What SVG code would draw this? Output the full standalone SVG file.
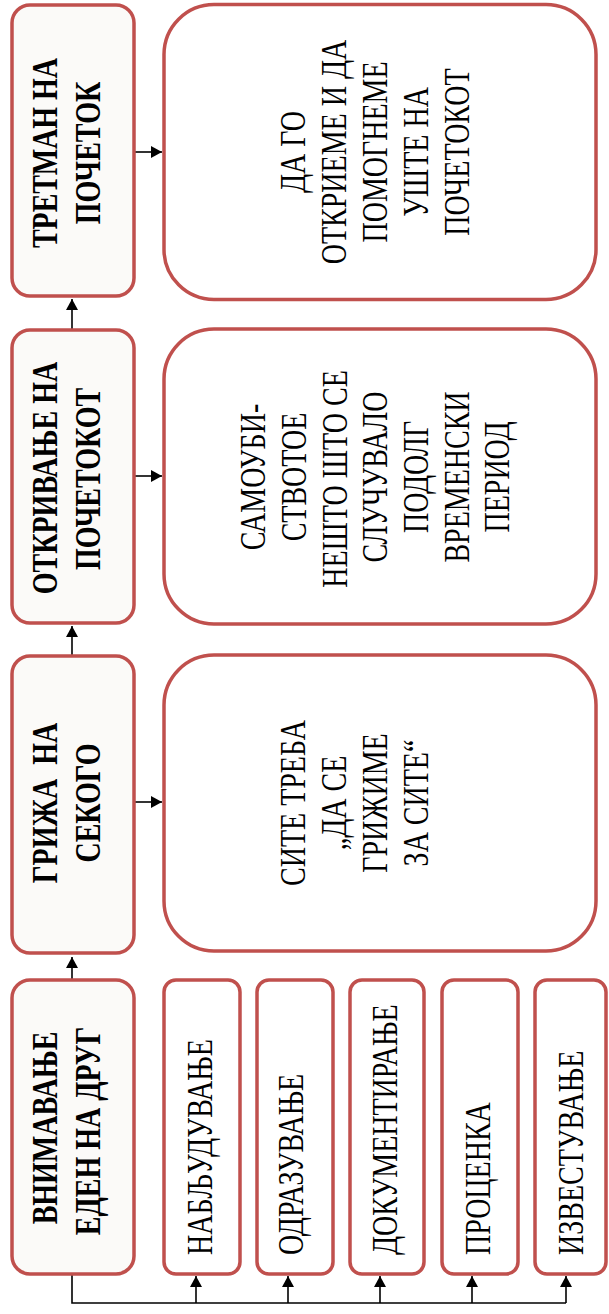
<svg xmlns="http://www.w3.org/2000/svg" width="609" height="1314" viewBox="0 0 609 1314">
<defs>
<style>
.lbox{fill:#fbfaf8;stroke:#c0504d;stroke-width:3.5}
.rbox{fill:#ffffff;stroke:#c0504d;stroke-width:3.5}
.b{font-family:"Liberation Serif","Times New Roman",serif;font-weight:bold;font-size:28px;fill:#000;text-anchor:middle;white-space:pre}
.r{font-family:"Liberation Serif","Times New Roman",serif;font-size:28px;fill:#000;text-anchor:middle}
.s{font-family:"Liberation Serif","Times New Roman",serif;font-size:28px;fill:#000;text-anchor:start}
.con{fill:none;stroke:#000;stroke-width:1.6}
</style>
<marker id="ah" markerUnits="userSpaceOnUse" markerWidth="12" markerHeight="12" refX="11" refY="6" orient="auto" viewBox="0 0 12 12">
<path d="M0,0 L11,6 L0,12 Z" fill="#000"/>
</marker>
</defs>
<rect width="609" height="1314" fill="#ffffff"/>

<g id="connectors">
<path class="con" d="M72,980 V957" marker-end="url(#ah)"/>
<path class="con" d="M72,656 V626" marker-end="url(#ah)"/>
<path class="con" d="M72,330 V299" marker-end="url(#ah)"/>
<path class="con" d="M134,152 H162" marker-end="url(#ah)"/>
<path class="con" d="M134,476 H162" marker-end="url(#ah)"/>
<path class="con" d="M134,802 H162" marker-end="url(#ah)"/>
<path class="con" d="M72,1274 V1303 H566"/>
<path class="con" d="M196,1303 V1276" marker-end="url(#ah)"/>
<path class="con" d="M288,1303 V1276" marker-end="url(#ah)"/>
<path class="con" d="M380,1303 V1276" marker-end="url(#ah)"/>
<path class="con" d="M472,1303 V1276" marker-end="url(#ah)"/>
<path class="con" d="M566,1303 V1276" marker-end="url(#ah)"/>
</g>

<g id="n-tretman">
<rect class="lbox" x="12" y="5" width="122" height="291" rx="18"/>
<text class="b" transform="translate(57,153) rotate(-90) scale(1,1.25)">ТРЕТМАН НА</text>
<text class="b" transform="translate(100,153) rotate(-90) scale(1,1.25)">ПОЧЕТОК</text>
</g>

<g id="n-dago">
<rect class="rbox" x="164" y="4.5" width="432" height="295" rx="50"/>
<text class="r" transform="translate(305,152) rotate(-90) scale(1,1.3)">ДА ГО</text>
<text class="r" transform="translate(346,152) rotate(-90) scale(1,1.3)">ОТКРИЕМЕ И ДА</text>
<text class="r" transform="translate(387,152) rotate(-90) scale(1,1.3)">ПОМОГНЕМЕ</text>
<text class="r" transform="translate(428,152) rotate(-90) scale(1,1.3)">УШТЕ НА</text>
<text class="r" transform="translate(469,152) rotate(-90) scale(1,1.3)">ПОЧЕТОКОТ</text>
</g>

<g id="n-otkrivanje">
<rect class="lbox" x="12" y="330" width="122" height="293" rx="18"/>
<text class="b" transform="translate(57,478) rotate(-90) scale(1,1.25)">ОТКРИВАЊЕ НА</text>
<text class="b" transform="translate(100,479) rotate(-90) scale(1,1.25)">ПОЧЕТОКОТ</text>
</g>

<g id="n-samoubistvo">
<rect class="rbox" x="164" y="329" width="432" height="295" rx="50"/>
<text class="r" transform="translate(265,477) rotate(-90) scale(1,1.3)">САМОУБИ-</text>
<text class="r" transform="translate(306,477) rotate(-90) scale(1,1.3)">СТВОТОЕ</text>
<text class="r" transform="translate(347,479) rotate(-90) scale(1,1.3)">НЕШТО ШТО СЕ</text>
<text class="r" transform="translate(387,477) rotate(-90) scale(1,1.3)">СЛУЧУВАЛО</text>
<text class="r" transform="translate(428,477) rotate(-90) scale(1,1.3)">ПОДОЛГ</text>
<text class="r" transform="translate(469,477) rotate(-90) scale(1,1.3)">ВРЕМЕНСКИ</text>
<text class="r" transform="translate(509,477) rotate(-90) scale(1,1.3)">ПЕРИОД</text>
</g>

<g id="n-grizha">
<rect class="lbox" x="12" y="656" width="122" height="297" rx="18"/>
<text class="b" transform="translate(57,803) rotate(-90) scale(1,1.25)">ГРИЖА  НА</text>
<text class="b" transform="translate(100,803) rotate(-90) scale(1,1.25)">СЕКОГО</text>
</g>

<g id="n-site">
<rect class="rbox" x="164" y="655" width="432" height="296" rx="50"/>
<text class="r" transform="translate(305,803) rotate(-90) scale(1,1.3)">СИТЕ ТРЕБА</text>
<text class="r" transform="translate(346,803) rotate(-90) scale(1,1.3)">„ДА СЕ</text>
<text class="r" transform="translate(387,803) rotate(-90) scale(1,1.3)">ГРИЖИМЕ</text>
<text class="r" transform="translate(428,803) rotate(-90) scale(1,1.3)">ЗА СИТЕ“</text>
</g>

<g id="n-vnimavanje">
<rect class="lbox" x="12" y="980" width="122" height="294" rx="18"/>
<text class="b" transform="translate(57,1128) rotate(-90) scale(1,1.25)">ВНИМАВАЊЕ</text>
<text class="b" transform="translate(100,1131) rotate(-90) scale(1,1.25)">ЕДЕН НА ДРУГ</text>
</g>

<g id="n-nabljuduvanje">
<rect class="rbox" x="164" y="980" width="76" height="294" rx="12"/>
<text class="s" transform="translate(212,1255) rotate(-90) scale(1,1.3)">НАБЉУДУВАЊЕ</text>
</g>
<g id="n-odrazuvanje">
<rect class="rbox" x="257" y="980" width="76" height="294" rx="12"/>
<text class="s" transform="translate(303,1255) rotate(-90) scale(1,1.3)">ОДРАЗУВАЊЕ</text>
</g>
<g id="n-dokumentiranje">
<rect class="rbox" x="350" y="980" width="74" height="294" rx="12"/>
<text class="s" transform="translate(397,1255) rotate(-90) scale(1,1.3)">ДОКУМЕНТИРАЊЕ</text>
</g>
<g id="n-procenka">
<rect class="rbox" x="442" y="980" width="76" height="294" rx="12"/>
<text class="s" transform="translate(490,1255) rotate(-90) scale(1,1.3)">ПРОЦЕНКА</text>
</g>
<g id="n-izvestuvanje">
<rect class="rbox" x="535" y="980" width="71" height="294" rx="12"/>
<text class="s" transform="translate(583,1255) rotate(-90) scale(1,1.3)">ИЗВЕСТУВАЊЕ</text>
</g>
</svg>
